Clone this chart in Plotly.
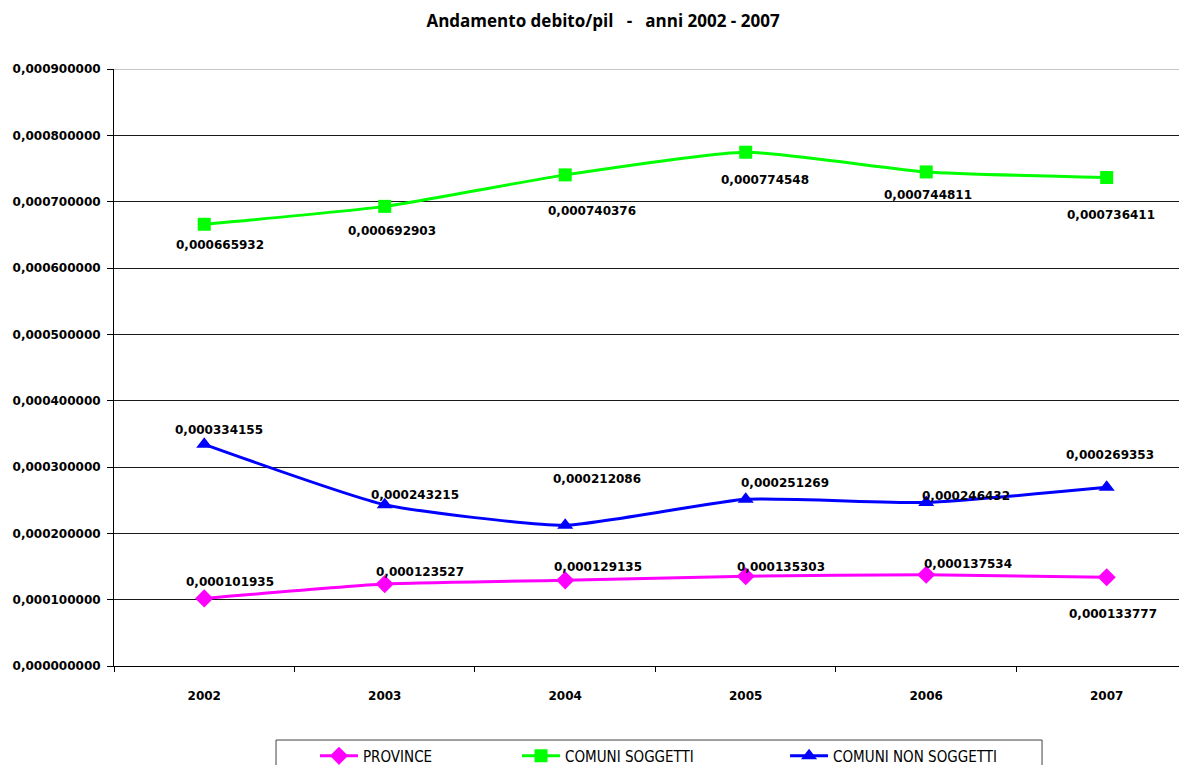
import plotly.graph_objects as go

years = ["2002", "2003", "2004", "2005", "2006", "2007"]
province = [0.000101935, 0.000123527, 0.000129135, 0.000135303, 0.000137534, 0.000133777]
comuni_soggetti = [0.000665932, 0.000692903, 0.000740376, 0.000774548, 0.000744811, 0.000736411]
comuni_non_soggetti = [0.000334155, 0.000243215, 0.000212086, 0.000251269, 0.000246432, 0.000269353]
y_ticks = [i * 0.0001 for i in range(10)]

# label offsets (px) as placed in the original chart
province_lbl_dx = [26, 35, 33, 35, 42, 6]
province_lbl_dy = [16, 12, 13, 9, 11, -37]
soggetti_lbl_dx = [16, 7, 27, 19, 2, 4]
soggetti_lbl_dy = [-21, -25, -36, -28, -23, -37]
non_sogg_lbl_dx = [15, 30, 32, 39, 40, 3]
non_sogg_lbl_dy = [14, 10, 46, 16, 7, 32]


def fmt(v):
    return f"{v:.9f}".replace(".", ",")


BOLD12 = dict(family="DejaVu Sans", size=12, color="#000000", weight="bold")
LEG_FONT = dict(family="DejaVu Sans Condensed, Liberation Sans Narrow, sans-serif", size=15, color="#000000")

fig = go.Figure()

series = [
    ("PROVINCE", province, "#FF00FF", "diamond", 14, province_lbl_dx, province_lbl_dy, "legend"),
    ("COMUNI SOGGETTI", comuni_soggetti, "#00FF00", "square", 13, soggetti_lbl_dx, soggetti_lbl_dy, "legend2"),
    ("COMUNI NON SOGGETTI", comuni_non_soggetti, "#0000FF", "triangle-up", 14, non_sogg_lbl_dx, non_sogg_lbl_dy, "legend3"),
]

for name, vals, color, sym, msize, dxs, dys, leg in series:
    fig.add_trace(go.Scatter(
        x=years, y=vals, name=name,
        mode="lines+markers",
        line=dict(color=color, width=3, shape="spline", smoothing=0.5),
        marker=dict(color=color, symbol=sym, size=msize),
        cliponaxis=False,
        legend=leg,
    ))
    # category axes place annotations by category index
    for idx, (yv, dx, dy) in enumerate(zip(vals, dxs, dys)):
        fig.add_annotation(
            x=idx, y=yv, xref="x", yref="y",
            text="<b>" + fmt(yv) + "</b>", showarrow=False,
            xshift=dx, yshift=dy, font=BOLD12,
            xanchor="center", yanchor="middle",
        )

# top gridline (drawn gray in the original)
fig.add_shape(
    type="line", xref="paper", yref="y",
    x0=0, x1=1, y0=y_ticks[-1], y1=y_ticks[-1],
    line=dict(color="#8c8c8c", width=1), layer="below",
)

# legend frame
fig.add_shape(
    type="rect", xref="paper", yref="paper",
    x0=0.151, x1=0.8649, y0=-0.19, y1=-0.124,
    line=dict(color="#404040", width=1), fillcolor="rgba(0,0,0,0)",
)

leg_common = dict(
    orientation="h", yanchor="middle", y=-0.1508, xanchor="left",
    bgcolor="rgba(0,0,0,0)", borderwidth=0, font=LEG_FONT, itemwidth=38,
)

fig.update_layout(
    width=1179, height=757,
    paper_bgcolor="white", plot_bgcolor="white",
    separators=",.",
    margin=dict(l=106, r=0, t=61, b=99, autoexpand=False),
    title=dict(
        text="<b>Andamento debito/pil\u00a0\u00a0\u00a0-\u00a0\u00a0\u00a0anni 2002 - 2007</b>",
        x=0.5047, xref="container", xanchor="center",
        y=0.9828, yref="container", yanchor="middle",
        font=dict(family="Open Sans", size=17, color="#000000"),
    ),
    showlegend=True,
    legend=dict(x=0.1873, **leg_common),
    legend2=dict(x=0.3756, **leg_common),
    legend3=dict(x=0.6254, **leg_common),
    xaxis=dict(
        type="category",
        range=[-0.5, 5.445],
        showline=True, linecolor="#000000", linewidth=1,
        ticks="outside", ticklen=5, tickcolor="#000000",
        tickson="boundaries",
        showgrid=False, zeroline=False,
        tickfont=BOLD12,
        ticklabelstandoff=19,
        automargin=False,
    ),
    yaxis=dict(
        range=[0, 0.0009],
        tickvals=y_ticks,
        ticktext=[fmt(v) for v in y_ticks],
        showline=True, linecolor="#000000", linewidth=1,
        ticks="outside", ticklen=6, tickcolor="#000000",
        showgrid=True, gridcolor="#1a1a1a", gridwidth=1,
        zeroline=False,
        tickfont=BOLD12,
        ticklabelstandoff=4,
        automargin=False,
    ),
)

fig.write_html("out.html")
